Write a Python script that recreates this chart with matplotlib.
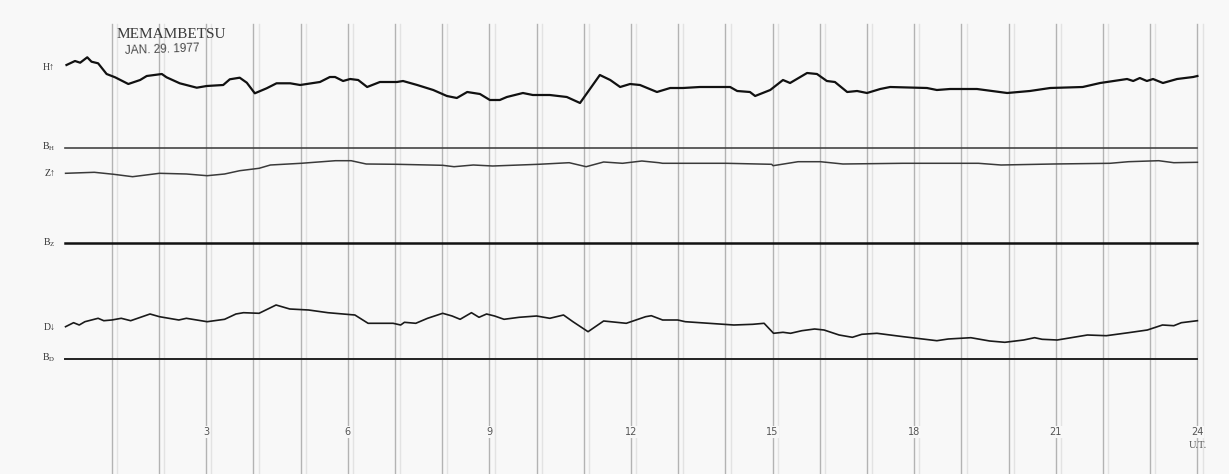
import numpy as np
import matplotlib
matplotlib.use("Agg")
import matplotlib.pyplot as plt

# hours (U.T.) and trace position on the sheet (measured down from top edge)
h_trace = [(0.04, 65), (0.22, 61), (0.33, 62.7), (0.48, 57.3), (0.57, 61.7), (0.71, 63.3),
           (0.89, 74), (1.07, 77.3), (1.35, 84), (1.60, 80), (1.74, 76), (2.06, 74),
           (2.16, 77.3), (2.44, 83.3), (2.80, 87.7), (3.01, 86), (3.36, 85), (3.50, 79.3),
           (3.71, 77.7), (3.86, 82.7), (4.03, 93.3), (4.28, 88.3), (4.49, 83.3), (4.78, 83.3),
           (4.99, 85), (5.41, 82), (5.62, 77), (5.73, 77), (5.90, 81), (6.05, 79), (6.22, 80),
           (6.41, 87), (6.68, 82), (7.04, 82), (7.17, 81), (7.47, 85), (7.81, 90), (8.10, 96),
           (8.31, 98), (8.53, 92), (8.80, 94), (9.01, 100), (9.22, 100), (9.37, 97), (9.71, 93),
           (9.92, 95), (10.28, 95), (10.64, 97), (10.92, 103), (11.34, 75), (11.56, 80),
           (11.77, 87), (11.98, 84), (12.19, 85), (12.55, 92), (12.83, 88), (13.10, 88),
           (13.46, 87), (14.10, 87), (14.25, 91), (14.52, 92), (14.63, 96), (14.95, 90),
           (15.22, 80), (15.37, 83), (15.73, 73), (15.94, 74), (16.15, 81), (16.32, 82),
           (16.58, 92), (16.79, 91), (17.00, 93), (17.28, 89), (17.49, 87), (18.27, 88),
           (18.48, 90), (18.76, 89), (19.33, 89), (19.97, 93), (20.45, 91), (20.88, 88),
           (21.57, 87), (21.94, 83), (22.51, 79), (22.64, 81), (22.78, 78), (22.93, 81),
           (23.06, 79), (23.27, 83), (23.57, 79), (23.91, 77), (24.00, 76)]

z_trace = [(0.02, 173.3), (0.63, 172.3), (1.04, 174.3), (1.44, 176.7), (2.01, 173.3),
           (2.58, 174), (3.02, 175.7), (3.39, 174), (3.71, 170.7), (4.12, 168.3), (4.36, 165),
           (5.01, 163.3), (5.74, 160.7), (6.07, 160.7), (6.39, 164), (7.04, 164.3),
           (8.01, 165.3), (8.25, 166.7), (8.66, 165), (9.07, 166), (10.04, 164.3),
           (10.69, 162.7), (11.05, 166.7), (11.42, 162), (11.82, 163.3), (12.23, 161),
           (12.59, 162.7), (12.67, 163.3), (14.02, 163.3), (14.98, 164.3), (15.01, 165.7),
           (15.54, 161.7), (16.01, 161.7), (16.49, 164), (17.76, 163.3), (19.36, 163.3),
           (19.84, 165), (20.95, 164), (22.15, 163.3), (22.54, 161.7), (23.18, 160.7),
           (23.50, 162.7), (24.00, 162.3)]

d_trace = [(0.02, 326.7), (0.19, 322.7), (0.31, 325), (0.43, 321.7), (0.71, 318.3),
           (0.83, 320.7), (1.00, 320), (1.20, 318.3), (1.40, 320.7), (1.81, 314),
           (2.01, 316.7), (2.42, 320), (2.58, 318.3), (3.02, 321.7), (3.39, 319.3),
           (3.63, 314), (3.79, 312.7), (4.12, 313.3), (4.48, 305), (4.77, 309), (5.17, 310),
           (5.58, 312.7), (5.90, 314), (6.15, 315), (6.43, 323.3), (6.96, 323.3), (7.12, 325),
           (7.20, 322.3), (7.44, 323.3), (7.69, 318.3), (8.01, 313.3), (8.21, 316),
           (8.38, 319.3), (8.62, 312.7), (8.78, 317.3), (8.94, 314), (9.11, 316),
           (9.31, 319.3), (9.63, 317.3), (10.00, 316), (10.28, 318.3), (10.57, 315),
           (10.77, 321.7), (11.09, 331.7), (11.42, 321), (11.90, 323.3), (12.31, 316.7),
           (12.43, 315.7), (12.67, 320), (12.99, 320), (13.15, 321.7), (14.18, 325),
           (14.58, 324.3), (14.82, 323.3), (15.02, 333.3), (15.22, 332.3), (15.38, 333.3),
           (15.62, 330.7), (15.89, 329), (16.09, 330), (16.41, 335), (16.69, 337.3),
           (16.89, 334.3), (17.21, 333.3), (17.77, 336.7), (18.48, 340.7), (18.72, 339),
           (19.20, 337.7), (19.60, 341), (19.92, 342.3), (20.32, 340), (20.55, 337.7),
           (20.71, 339.3), (21.03, 340), (21.67, 335), (22.07, 335.7), (22.54, 332.7),
           (22.94, 330), (23.26, 325), (23.50, 325.7), (23.66, 322.7), (24.00, 320.7)]

# baselines
base_h, base_z, base_d = 148, 243, 359

hour_ticks = [3, 6, 9, 12, 15, 18, 21, 24]

fig = plt.figure(figsize=(12.29, 4.74), dpi=100)
fig.patch.set_facecolor("#f8f8f8")
ax = fig.add_axes([0, 0, 1, 1])
ax.set_facecolor("#f8f8f8")
ax.set_xlim(-64.6 / 47.2, (1229 - 64.6) / 47.2)
ax.set_ylim(474, 0)
ax.axis("off")

# hourly lines (slightly doubled like the chart paper)
for h in range(1, 25):
    ax.plot([h, h], [24, 474], color="#b3b3b3", lw=1.0, zorder=1)
    ax.plot([h + 0.11, h + 0.11], [24, 474], color="#e3e3e3", lw=1.0, zorder=1)

# baselines
ax.plot([0, 24], [base_h, base_h], color="#444444", lw=1.2, zorder=2)
ax.plot([0, 24], [base_z, base_z], color="#111111", lw=1.8, zorder=2)
ax.plot([0, 24], [base_d, base_d], color="#222222", lw=1.4, zorder=2)

# traces
for trace, lw, col in [(h_trace, 1.6, "#111111"), (z_trace, 1.1, "#3a3a3a"),
                       (d_trace, 1.2, "#1a1a1a")]:
    t, y = np.array(trace).T
    ax.plot(t, y, color=col, lw=lw, zorder=3, solid_joinstyle="round")

# left labels
lab = dict(ha="right", va="center", fontsize=7, color="#333333",
           family=["Liberation Serif", "DejaVu Sans"])
ax.text(-0.2, 67, "H↑", **lab)
ax.text(-0.2, 147, r"B$_\mathregular{H}$", **lab)
ax.text(-0.2, 174, "Z↑", **lab)
ax.text(-0.2, 243, r"B$_\mathregular{Z}$", **lab)
ax.text(-0.2, 327, "D↓", **lab)
ax.text(-0.2, 358, r"B$_\mathregular{D}$", **lab)

# station stamp
ax.text(2.26, 34, "MEMAMBETSU", ha="center", va="center", fontsize=11,
        color="#3a3a3a", family="Liberation Serif")
ax.text(2.07, 50, "JAN. 29. 1977", ha="center", va="center", fontsize=8.5,
        color="#4a4a4a", family="Liberation Sans", rotation=2)

# hour labels
for h in hour_ticks:
    ax.text(h, 432, str(h), ha="center", va="center", fontsize=7, color="#555555",
            bbox=dict(facecolor="#f8f8f8", edgecolor="none", pad=0.5), zorder=4)
ax.text(24, 445, "U.T.", ha="center", va="center", fontsize=7.5, color="#555555",
        family="Liberation Serif", zorder=4)

fig.savefig("out.png", dpi=100, facecolor=fig.get_facecolor())
